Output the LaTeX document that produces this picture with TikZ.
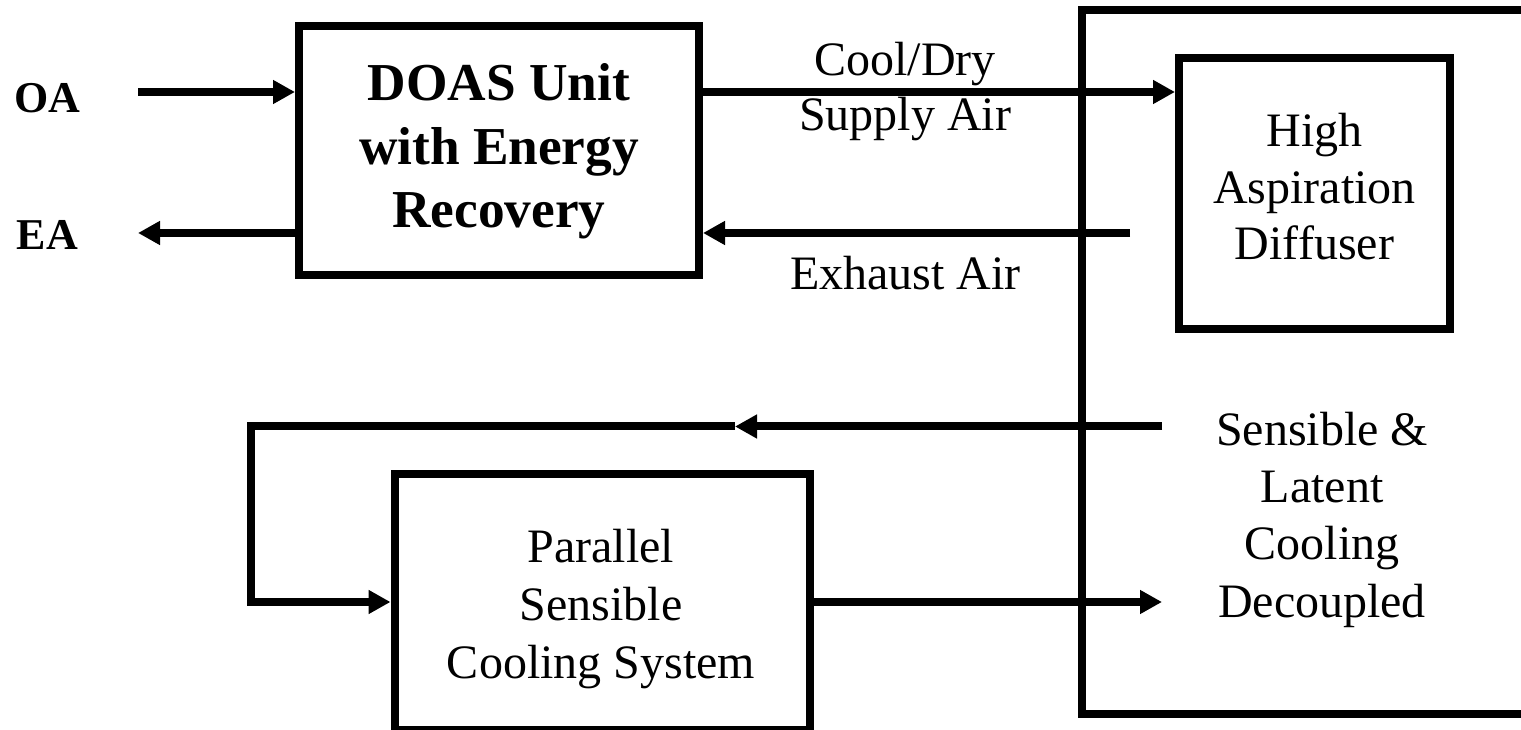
\documentclass[tikz,border=0pt]{standalone}
\usepackage{fontspec}
\setmainfont{Liberation Serif}
\usetikzlibrary{arrows.meta}
\begin{document}
\begin{tikzpicture}[x=0.75pt,y=-0.75pt,
  ln/.style={line width=6pt},
  arr/.style={ln,-{Triangle[length=16.5pt,width=17pt]}},
  blk/.style={draw,line width=6pt,inner sep=0pt},
  txt/.style={inner sep=0pt,align=center,font=\fontsize{36}{43}\selectfont},
  btxt/.style={inner sep=0pt,align=center,font=\fontsize{40}{47.6}\selectfont\bfseries},
  lbl/.style={inner sep=0pt,anchor=base,font=\fontsize{33}{40}\selectfont\bfseries}]
\useasboundingbox (0,0) rectangle (1521,730);

% blocks
\node[blk,minimum width=300pt,minimum height=186.75pt] (doas) at (499,151) {};
\node[btxt] (doastext) at (499,151.7) {DOAS Unit\\with Energy\\Recovery};

\node[blk,minimum width=203.25pt,minimum height=203.6pt] (had) at (1314.5,193.75) {};
\node[txt,font=\fontsize{36}{42.4}\selectfont] (hadtext) at (1314.5,187) {High\\Aspiration\\Diffuser};

\node[blk,minimum width=311.6pt,minimum height=191.25pt] (psc) at (602.25,602) {};
\node[txt,font=\fontsize{36}{43.5}\selectfont] (psctext) at (601,608.7) {Parallel\\Sensible\\Cooling System};

% texts
\node[txt] (sl) at (1322,519.7) {Sensible \&\\Latent\\Cooling\\Decoupled};
\node[txt,font=\fontsize{36}{41.25}\selectfont] (sup) at (905,92) {Cool/Dry\\Supply Air};
\node[txt,anchor=base] (exh) at (905.5,290) {Exhaust Air};
\node[lbl] (oa) at (47.5,113) {OA};
\node[lbl] (ea) at (47.5,250) {EA};

% coordinates
\coordinate (oain) at (138,92);
\coordinate (eaout) at (138,233);
\coordinate (exin) at (1130,233);
\coordinate (slin) at (1162,426.5);
\coordinate (loopmid) at (735,426.5);
\coordinate (looptl) at (250.5,426.5);
\coordinate (loopbl) at (250.5,602);
\coordinate (slout) at (1162,602);
\coordinate (brtr) at (1530,10.5);
\coordinate (brtl) at (1082,10.5);
\coordinate (brbl) at (1082,713.5);
\coordinate (brbr) at (1530,713.5);

% room bracket
\draw[ln] (brtr) -- (brtl) -- (brbl) -- (brbr);

% connectors
\draw[arr] (oain) -- (oain -| doas.west);
\draw[arr] (doas.west |- eaout) -- (eaout);
\draw[arr] (doas.east |- oain) -- (had.west |- oain);
\draw[arr] (exin) -- (exin -| doas.east);
\draw[arr] (slin) -- (loopmid);
\draw[arr] (loopmid) -- (looptl) -- (loopbl) -- (loopbl -| psc.west);
\draw[arr] (psc.east |- slout) -- (slout);
\end{tikzpicture}
\end{document}
